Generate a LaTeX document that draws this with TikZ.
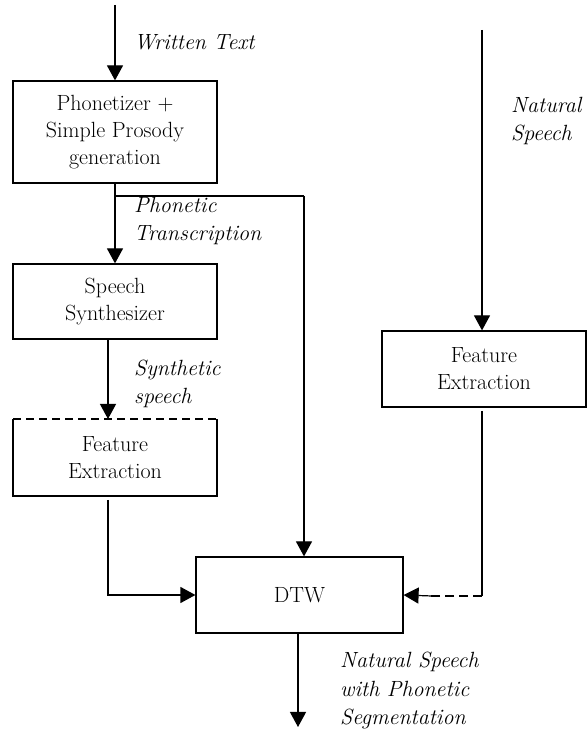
\documentclass[tikz,border=0pt]{standalone}
\usetikzlibrary{arrows.meta}
\begin{document}
\begin{tikzpicture}[x=1pt,y=1pt,
  box/.style={draw,line width=1.2pt,minimum width=204pt,inner sep=0pt,align=center,font=\fontsize{22}{27}\selectfont},
  plain/.style={minimum width=204pt,inner sep=0pt,outer sep=0pt,align=center,font=\fontsize{22}{27}\selectfont},
  lbl/.style={anchor=west,align=left,inner sep=0pt,font=\fontsize{22}{28.5}\selectfont\itshape},
  conn/.style={line width=1.2pt},
  arr/.style={line width=1.2pt,-{Triangle[width=16pt,length=15pt]}}]
\useasboundingbox (0,0) rectangle (588,736);
% boxes (y = 736 - pixel y)
\node[box,minimum height=102pt] (b1) at (115,604) {Phonetizer +\\Simple Prosody\\generation};
\node[box,minimum height=75pt] (b2) at (115,434.5) {Speech\\Synthesizer};
\node[plain,minimum height=77pt] (b3) at (115,278.5) {Feature\\Extraction};
\draw[line width=1.2pt] (b3.north west) -- (b3.south west) -- (b3.south east) -- (b3.north east);
\draw[line width=1.2pt,dash pattern=on 8pt off 5pt] (b3.north west) -- (b3.north east);
\node[box,minimum height=76pt] (b4) at (484,367) {Feature\\Extraction};
\node[box,minimum width=207pt,minimum height=76pt] (dtw) at (299.5,141) {DTW};
% coordinates
\coordinate (wt) at (115,731);
\coordinate (br) at (115,540);
\coordinate (dtwin) at (304,540);
\coordinate (ns) at (482,706);
\coordinate (b4out) at (482,325);
\coordinate (corner) at (482,140);
\coordinate (b3out) at (108,236);
\coordinate (out) at (298,9);
% connectors
\draw[arr] (wt) -- (b1.north -| wt);
\draw[arr] (b1.south) -- (b2.north -| b1.south);
\draw[conn] (br) -- (dtwin);
\draw[arr] (dtwin) -- (dtw.north -| dtwin);
\draw[arr] (b2.south -| b3out) -- (b3.north -| b3out);
\draw[arr] (b3out) |- (dtw.west);
\draw[arr] (ns) -- (b4.north -| ns);
\draw[conn] (b4out) -- (corner);
\draw[line width=1.2pt,dash pattern=on 9pt off 5pt] (corner) -- (430,140);
\draw[arr] (432,140) -- (dtw.east);
\draw[arr] (dtw.south -| out) -- (out);
% labels
\node[lbl] (l1) at (134,694) {Written Text};
\node[lbl] (l2) at (134,515) {Phonetic\\Transcription};
\node[lbl] (l3) at (134,352) {Synthetic\\speech};
\node[lbl] (l4) at (511,615) {Natural\\Speech};
\node[lbl] (l5) at (340,45) {Natural Speech\\with Phonetic\\Segmentation};
\end{tikzpicture}
\end{document}
